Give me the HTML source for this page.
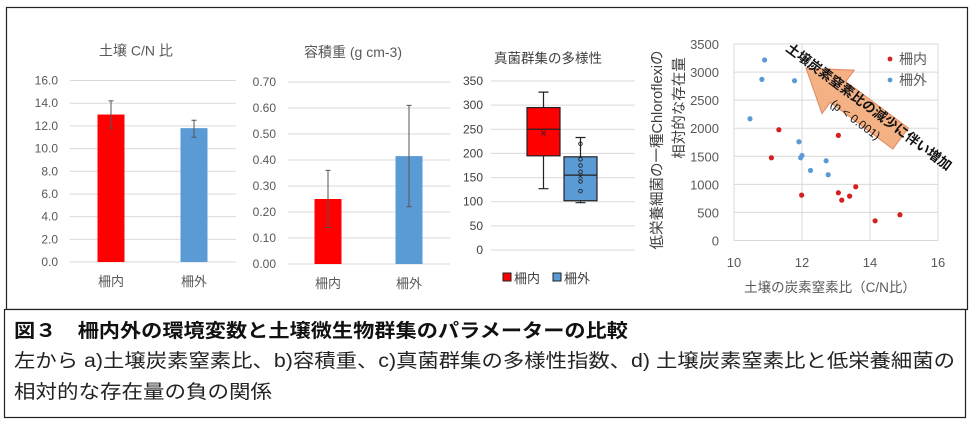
<!DOCTYPE html>
<html><head><meta charset="utf-8"><style>
body{margin:0;background:#fff;width:976px;height:425px;overflow:hidden;font-family:"Liberation Sans","Noto Sans CJK JP",sans-serif}
svg text{font-family:"Liberation Sans","Noto Sans CJK JP",sans-serif}
</style></head><body>
<svg id="fig" width="976" height="425" xmlns="http://www.w3.org/2000/svg">
<rect x="6.5" y="7.5" width="961" height="302" fill="#fff" stroke="#222" stroke-width="1.2"/>
<rect x="4.5" y="309.5" width="961" height="108" fill="#fff" stroke="#222" stroke-width="1.2"/>
<text x="14" y="337" font-size="19" font-weight="bold" fill="#111" textLength="614" lengthAdjust="spacingAndGlyphs">図３　柵内外の環境変数と土壌微生物群集のパラメーターの比較</text>
<text x="14" y="367" font-size="19" fill="#222" textLength="941" lengthAdjust="spacingAndGlyphs">左から a)土壌炭素窒素比、b)容積重、c)真菌群集の多様性指数、d) 土壌炭素窒素比と低栄養細菌の</text>
<text x="14" y="398" font-size="19" fill="#222" textLength="258" lengthAdjust="spacingAndGlyphs">相対的な存在量の負の関係</text>
<g id="c1"></g>
<g id="c2"></g>
<g id="c3"></g>
<g id="c4"></g>
</svg>
<script>
const cats=["柵内","柵外"];
const cnMeans=[13.0,11.8];
const cnLow=[11.8,11.0];
const cnHigh=[14.2,12.5];
const cnTicks=[0,2,4,6,8,10,12,14,16];
const bdMeans=[0.25,0.415];
const bdLow=[0.14,0.22];
const bdHigh=[0.36,0.61];
const bdTicks=[0,0.1,0.2,0.3,0.4,0.5,0.6,0.7];
const boxMin=[127,98];
const boxQ1=[195,102];
const boxMed=[250,155];
const boxMean=[242,153];
const boxQ3=[295,193];
const boxMax=[327,233];
const boxPointsOut=[220,188,175,162,142,122];
const boxTicks=[0,50,100,150,200,250,300,350];
const inX=[11.32,11.10,13.07,11.99,13.07,13.17,13.40,13.58,14.15,14.88];
const inY=[1973,1474,1872,808,850,719,790,957,351,458];
const outX=[10.90,10.82,11.78,10.47,11.91,12.00,11.96,12.25,12.71,12.77];
const outY=[3215,2870,2846,2169,1759,1515,1474,1248,1420,1171];
const scXTicks=[10,12,14,16];
const scYTicks=[0,500,1000,1500,2000,2500,3000,3500];
const colors=["#ff0000","#5b9bd5"];
const NS="http://www.w3.org/2000/svg";
function mk(p,t,a,txt){const e=document.createElementNS(NS,t);for(const k in a)e.setAttribute(k,a[k]);if(txt!==undefined)e.textContent=txt;p.appendChild(e);return e;}

function barChart(g,title,tx,means,lo,hi,ticks,dec,x0,x1,yTop,yBot,lx,bx,bw,max){
  const y=v=>yBot-(v/max)*(yBot-yTop);
  let e=mk(g,'text',{x:tx,y:yTop-25,'font-size':14,fill:'#595959','text-anchor':'middle'},title);
  
  
  ticks.forEach(t=>{
    e=mk(g,'line',{x1:x0,x2:x1,y1:y(t),y2:y(t),stroke:'#d9d9d9','stroke-width':1});
    
    
    e=mk(g,'text',{x:lx,y:y(t)+4,'font-size':12,fill:'#595959','text-anchor':'end'},t.toFixed(dec));
    
    
  });
  means.forEach((m,i)=>{
    e=mk(g,'rect',{x:bx[i]-bw/2,y:y(m),width:bw,height:yBot-y(m),fill:colors[i]});
    
    
    e=mk(g,'path',{d:`M${bx[i]},${y(lo[i])}V${y(hi[i])}M${bx[i]-2.5},${y(lo[i])}h5M${bx[i]-2.5},${y(hi[i])}h5`,stroke:'#555','stroke-width':1,fill:'none'});
    
    
    e=mk(g,'text',{x:bx[i],y:yBot+24,'font-size':13,fill:'#595959','text-anchor':'middle'},cats[i]);
    
    
  });
}
barChart(document.getElementById('c1'),'土壌 C/N 比',136,cnMeans,cnLow,cnHigh,cnTicks,1,70,236,80.5,262,58,[111,194],27,16);
barChart(document.getElementById('c2'),'容積重 (g cm-3)',353,bdMeans,bdLow,bdHigh,bdTicks,2,288,450,82,264,276,[328,409],27,0.7);

(function(){
  const g=document.getElementById('c3');
  const yTop=81,yBot=250,max=350,x0=491,x1=635;
  const y=v=>yBot-(v/max)*(yBot-yTop);
  let e=mk(g,'text',{x:548,y:63,'font-size':13.5,fill:'#404040','text-anchor':'middle'},'真菌群集の多様性');
  
  
  boxTicks.forEach(t=>{
    e=mk(g,'line',{x1:x0,x2:x1,y1:y(t),y2:y(t),stroke:'#d9d9d9','stroke-width':1});
    
    
    e=mk(g,'text',{x:483,y:y(t)+4,'font-size':12,fill:'#404040','text-anchor':'end'},t);
    
    
  });
  const cx=[543.5,580.5],bw=33;
  cats.forEach((c,i)=>{
    e=mk(g,'path',{d:`M${cx[i]},${y(boxMin[i])}V${y(boxMax[i])}M${cx[i]-5},${y(boxMin[i])}h10M${cx[i]-5},${y(boxMax[i])}h10`,stroke:'#222','stroke-width':1.2,fill:'none'});
    
    
    e=mk(g,'rect',{x:cx[i]-bw/2,y:y(boxQ3[i]),width:bw,height:y(boxQ1[i])-y(boxQ3[i]),fill:colors[i],stroke:'#222','stroke-width':1.2});
    
    
    e=mk(g,'line',{x1:cx[i]-bw/2,x2:cx[i]+bw/2,y1:y(boxMed[i]),y2:y(boxMed[i]),stroke:'#222','stroke-width':1.2});
    
    
    e=mk(g,'text',{x:cx[i],y:y(boxMean[i])+4,'font-size':11,fill:'#222','text-anchor':'middle'},'×');
    
    
  });
  boxPointsOut.forEach(v=>{
    e=mk(g,'circle',{cx:cx[1],cy:y(v),r:1.8,fill:'none',stroke:'#222','stroke-width':0.9});
    
    
  });
  [[503,'柵内',0],[553,'柵外',1]].forEach(([lx,t,i])=>{
    e=mk(g,'rect',{x:lx,y:273,width:8,height:8,fill:colors[i],stroke:'#222','stroke-width':1});
    
    
    e=mk(g,'text',{x:lx+11,y:283,'font-size':13,fill:'#404040'},t);
    
    
  });
})();

(function(){
  const g=document.getElementById('c4');
  const x0=734,x1=938,yTop=44,yBot=240.5;
  const xs=v=>x0+(v-10)/6*(x1-x0);
  const ys=v=>yBot-v/3500*(yBot-yTop);
  let e;
  scYTicks.forEach(t=>{
    e=mk(g,'line',{x1:x0,x2:x1,y1:ys(t),y2:ys(t),stroke:'#d9d9d9','stroke-width':1});
    
    
    e=mk(g,'text',{x:719,y:ys(t)+5,'font-size':13,fill:'#595959','text-anchor':'end'},t);
    
    
  });
  scXTicks.forEach(t=>{
    e=mk(g,'line',{x1:xs(t),x2:xs(t),y1:yTop,y2:yBot,stroke:'#d9d9d9','stroke-width':1});
    
    
    e=mk(g,'text',{x:xs(t),y:267,'font-size':13,fill:'#595959','text-anchor':'middle'},t);
    
    
  });
  e=mk(g,'text',{x:830,y:292,'font-size':13.5,fill:'#595959','text-anchor':'middle'},'土壌の炭素窒素比（C/N比）');
  
  
  e=mk(g,'text',{x:0,y:0,'font-size':14.5,fill:'#404040','text-anchor':'middle',transform:'translate(662,150) rotate(-90)'},'低栄養細菌の一種Chloroflexiの');
  
  
  e=mk(g,'text',{x:0,y:0,'font-size':14.5,fill:'#404040','text-anchor':'middle',transform:'translate(684,108) rotate(-90)'},'相対的な存在量');
  
  
  outX.forEach((v,i)=>{
    e=mk(g,'circle',{cx:xs(v),cy:ys(outY[i]),r:2.6,fill:'#5b9bd5'});
    
    
  });
  inX.forEach((v,i)=>{
    e=mk(g,'circle',{cx:xs(v),cy:ys(inY[i]),r:2.6,fill:'#d42020'});
    
    
  });
  e=mk(g,'polygon',{points:'0,0 40,-27 40,-13 118,-13 118,13 40,13 40,27',fill:'#f4b183',stroke:'#e08860','stroke-width':1,transform:'translate(806,68) rotate(36.7)'});
  
  
  e=mk(g,'text',{x:0,y:0,'font-size':13.5,fill:'#111','font-weight':'bold',transform:'translate(785,50) rotate(36.7)'},'土壌炭素窒素比の減少に伴い増加');
  
  
  e=mk(g,'text',{x:0,y:0,'font-size':12,fill:'#111','text-anchor':'middle',transform:'translate(853,123) rotate(36.7)'},'(p < 0.001)');
  
  
  [[59,'柵内','#d42020'],[80,'柵外','#5b9bd5']].forEach(([ly,t,c])=>{
    e=mk(g,'circle',{cx:890,cy:ly,r:2.4,fill:c});
    
    
    e=mk(g,'text',{x:899,y:ly+5,'font-size':14,fill:'#595959'},t);
    
    
  });
})();
</script>
</body></html>
